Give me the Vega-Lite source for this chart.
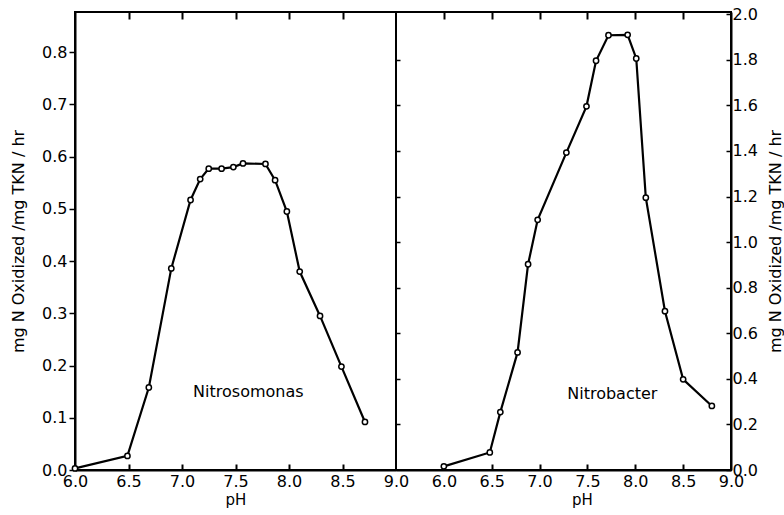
{
  "$schema": "https://vega.github.io/schema/vega-lite/v6.json",
  "padding": {"left": 9, "top": 5, "right": 0, "bottom": 0},
  "spacing": 0,
  "bounds": "flush",
  "background": "white",
  "config": {
    "view": {"stroke": "black", "strokeWidth": 2},
    "font": "DejaVu Sans",
    "axis": {
      "labelFont": "DejaVu Sans",
      "titleFont": "DejaVu Sans",
      "labelFontSize": 16,
      "titleFontSize": 16,
      "labelColor": "black",
      "titleColor": "black",
      "titleFontWeight": "normal",
      "tickColor": "black",
      "domainColor": "black",
      "domainWidth": 2,
      "tickWidth": 1.5,
      "grid": false
    }
  },
  "datasets": {
    "nitrosomonas": [
      {"pH": 6.0, "rate": 0.003},
      {"pH": 6.49, "rate": 0.027},
      {"pH": 6.69, "rate": 0.158},
      {"pH": 6.9, "rate": 0.386},
      {"pH": 7.08, "rate": 0.517},
      {"pH": 7.17, "rate": 0.557},
      {"pH": 7.25, "rate": 0.577},
      {"pH": 7.37, "rate": 0.577},
      {"pH": 7.48, "rate": 0.58},
      {"pH": 7.57, "rate": 0.587},
      {"pH": 7.78, "rate": 0.586},
      {"pH": 7.87, "rate": 0.555},
      {"pH": 7.98, "rate": 0.495},
      {"pH": 8.1, "rate": 0.38},
      {"pH": 8.29, "rate": 0.295},
      {"pH": 8.49, "rate": 0.198},
      {"pH": 8.71, "rate": 0.092}
    ],
    "nitrobacter": [
      {"pH": 6.0, "rate": 0.016},
      {"pH": 6.48, "rate": 0.077},
      {"pH": 6.59, "rate": 0.254},
      {"pH": 6.77, "rate": 0.516},
      {"pH": 6.88, "rate": 0.903},
      {"pH": 6.98, "rate": 1.098},
      {"pH": 7.28, "rate": 1.393},
      {"pH": 7.49, "rate": 1.596},
      {"pH": 7.59, "rate": 1.796},
      {"pH": 7.72, "rate": 1.908},
      {"pH": 7.92, "rate": 1.91},
      {"pH": 8.01, "rate": 1.806},
      {"pH": 8.11, "rate": 1.195},
      {"pH": 8.31, "rate": 0.697},
      {"pH": 8.5, "rate": 0.398},
      {"pH": 8.8, "rate": 0.281}
    ]
  },
  "hconcat": [
    {
      "width": 321,
      "height": 458,
      "resolve": {"axis": {"x": "independent", "y": "independent"}},
      "layer": [
        {
          "data": {"name": "nitrosomonas"},
          "mark": {"type": "line", "color": "black", "strokeWidth": 2.2},
          "encoding": {
            "x": {"field": "pH", "type": "quantitative", "scale": {"domain": [6, 9], "nice": false, "zero": false},
              "axis": {"orient": "bottom", "title": "pH", "values": [6, 6.5, 7, 7.5, 8, 8.5, 9], "format": ".1f", "ticks": false, "labelPadding": 3, "titlePadding": 3, "titleFontSize": 15, "labelFlush": false, "labelOverlap": false}},
            "y": {"field": "rate", "type": "quantitative", "scale": {"domain": [0, 0.877], "nice": false},
              "axis": {"orient": "left", "title": "mg N Oxidized /mg TKN / hr", "values": [0, 0.1, 0.2, 0.3, 0.4, 0.5, 0.6, 0.7, 0.8], "format": ".1f", "tickSize": 6, "labelPadding": 2, "titlePadding": 15, "labelFlush": false, "labelOverlap": false}}
          }
        },
        {
          "data": {"name": "nitrosomonas"},
          "mark": {"type": "point", "shape": "circle", "filled": true, "fill": "white", "stroke": "black", "strokeWidth": 1.5, "size": 28, "opacity": 1},
          "encoding": {
            "x": {"field": "pH", "type": "quantitative",
              "axis": {"orient": "top", "title": null, "labels": false, "domain": false, "values": [6.5, 7, 7.5, 8, 8.5], "tickSize": 7, "offset": -7, "tickWidth": 2}},
            "y": {"field": "rate", "type": "quantitative", "axis": null}
          }
        },
        {
          "data": {"values": [{"pH": 7.62, "rate": 0.149, "label": "Nitrosomonas"}]},
          "mark": {"type": "text", "fontSize": 16, "font": "DejaVu Sans", "color": "black"},
          "encoding": {
            "x": {"field": "pH", "type": "quantitative", "axis": {"orient": "bottom", "title": null, "labels": false, "domain": false, "values": [6.5, 7, 7.5, 8, 8.5], "tickSize": 6, "offset": -6, "tickWidth": 2}},
            "y": {"field": "rate", "type": "quantitative", "axis": null},
            "text": {"field": "label"}
          }
        }
      ]
    },
    {
      "width": 335,
      "height": 458,
      "resolve": {"axis": {"x": "independent", "y": "independent"}},
      "layer": [
        {
          "data": {"name": "nitrobacter"},
          "mark": {"type": "line", "color": "black", "strokeWidth": 2.2},
          "encoding": {
            "x": {"field": "pH", "type": "quantitative", "scale": {"domain": [5.5, 9], "nice": false, "zero": false},
              "axis": {"orient": "bottom", "title": "pH", "titleX": 186, "values": [6, 6.5, 7, 7.5, 8, 8.5, 9], "format": ".1f", "ticks": false, "labelPadding": 3, "titlePadding": 3, "titleFontSize": 15, "labelFlush": false, "labelOverlap": false}},
            "y": {"field": "rate", "type": "quantitative", "scale": {"domain": [0, 2.01], "nice": false},
              "axis": {"orient": "right", "title": "mg N Oxidized /mg TKN / hr", "titleAngle": 270, "titleBaseline": "top", "values": [0, 0.2, 0.4, 0.6, 0.8, 1.0, 1.2, 1.4, 1.6, 1.8, 2.0], "format": ".1f", "tickSize": -5, "labelPadding": 6, "titlePadding": 10, "labelFlush": false, "labelOverlap": false}}
          }
        },
        {
          "data": {"name": "nitrobacter"},
          "mark": {"type": "point", "shape": "circle", "filled": true, "fill": "white", "stroke": "black", "strokeWidth": 1.5, "size": 28, "opacity": 1},
          "encoding": {
            "x": {"field": "pH", "type": "quantitative",
              "axis": {"orient": "top", "title": null, "labels": false, "domain": false, "values": [6, 6.5, 7, 7.5, 8, 8.5], "tickSize": 7, "offset": -7, "tickWidth": 2}},
            "y": {"field": "rate", "type": "quantitative",
              "axis": {"orient": "left", "title": null, "labels": false, "domain": false, "values": [0.2, 0.4, 0.6, 0.8, 1.0, 1.2, 1.4, 1.6, 1.8], "tickSize": -4}}
          }
        },
        {
          "data": {"values": [{"pH": 7.76, "rate": 0.335, "label": "Nitrobacter"}]},
          "mark": {"type": "text", "fontSize": 16, "font": "DejaVu Sans", "color": "black"},
          "encoding": {
            "x": {"field": "pH", "type": "quantitative", "axis": {"orient": "bottom", "title": null, "labels": false, "domain": false, "values": [6, 6.5, 7, 7.5, 8, 8.5], "tickSize": 6, "offset": -6, "tickWidth": 2}},
            "y": {"field": "rate", "type": "quantitative", "axis": null},
            "text": {"field": "label"}
          }
        }
      ]
    }
  ]
}
